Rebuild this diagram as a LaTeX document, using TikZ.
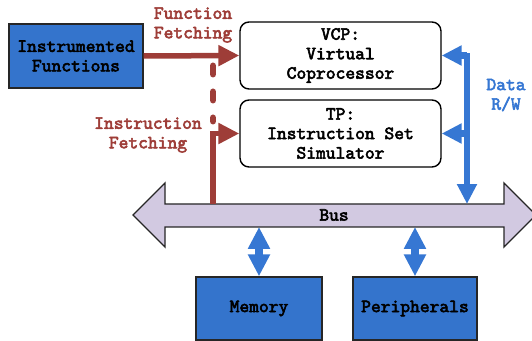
\documentclass[tikz,border=0pt]{standalone}
\usepackage{fontspec}
\setmonofont{Latin Modern Mono}[AutoFakeBold=3]
\usepackage{tikz}
\usetikzlibrary{arrows.meta, positioning, calc}
\definecolor{boxblue}{HTML}{3474CC}
\definecolor{fetchred}{HTML}{9E3D38}
\definecolor{buslav}{HTML}{D2C9E1}
\definecolor{datablue}{HTML}{3677D3}

\begin{document}
\begin{tikzpicture}[x=0.02cm, y=-0.02cm,
  every node/.style={font=\ttfamily\bfseries\fontsize{10.6}{11.1}\selectfont, align=center},
  bluebox/.style={rectangle, draw=black!85, line width=0.8pt, fill=boxblue,
                  inner sep=0pt},
  simbox/.style={rectangle, rounded corners=0.18cm, draw=black, line width=0.8pt,
                 fill=white, minimum width=4.02cm, minimum height=1.34cm, inner sep=0pt},
  fetch/.style={draw=fetchred, line width=0.11cm,
                -{Triangle[length=0.42cm, width=0.4cm]}},
  dotline/.style={draw=fetchred, line width=0.14cm, line cap=round,
                  dash pattern=on 0.16cm off 0.36cm},
  data/.style={draw=datablue, line width=0.13cm,
               -{Triangle[length=0.4cm, width=0.38cm]}},
  bidir/.style={draw=datablue, line width=0.16cm,
                {Triangle[length=0.44cm, width=0.42cm]}-{Triangle[length=0.44cm, width=0.42cm]}},
  redlbl/.style={text=fetchred},
  bluelbl/.style={text=datablue}
]
  \useasboundingbox (0,0) rectangle (532,341);

  % boxes
  \node[bluebox, minimum width=2.68cm, minimum height=1.28cm] (instr) at (76,56)
    {Instrumented\\Functions};
  \node[simbox] (vcp) at (340.5,55.5) {VCP:\\Virtual\\Coprocessor};
  \node[simbox] (tp)  at (340.5,133.5) {TP:\\Instruction Set\\Simulator};
  \node[bluebox, minimum width=2.52cm, minimum height=1.26cm] (mem) at (259,308.5) {Memory};
  \node[bluebox, minimum width=2.48cm, minimum height=1.26cm] (per) at (415,308.5) {Peripherals};

  % bus
  \draw[black!85, line width=0.8pt, fill=buslav]
    (133,215) -- (165,183) -- (165,204) -- (504,204) -- (504,183) -- (536,215)
    -- (504,247) -- (504,227) -- (165,227) -- (165,247) -- cycle;
  \node (bus) at (334,215) {Bus};
  \coordinate (bustop) at (334,204);
  \coordinate (busbot) at (334,227);

  % fetching
  \draw[fetch] (instr.east) -- (vcp.west);
  \draw[dotline] (213,66) -- (213,121);
  \coordinate (ifx) at (213,0);
  \draw[fetch] (ifx |- bustop) |- (tp.west);
  \node[redlbl] (ffl) at (193,25) {Function\\Fetching};
  \node[redlbl] (ifl) at (148,135) {Instruction\\Fetching};

  % data
  \coordinate (dtop) at (467,55.5);
  \draw[data] ($(dtop)+(0,-2)$) -- (dtop |- bustop);
  \draw[data] (dtop) -- (vcp.east);
  \draw[data] (dtop |- tp.east) -- (tp.east);
  \node[bluelbl] (dl) at (506,95) {Data\\R/W};

  \draw[bidir] (mem.north |- busbot) -- (mem.north);
  \draw[bidir] (per.north |- busbot) -- (per.north);
\end{tikzpicture}
\end{document}
